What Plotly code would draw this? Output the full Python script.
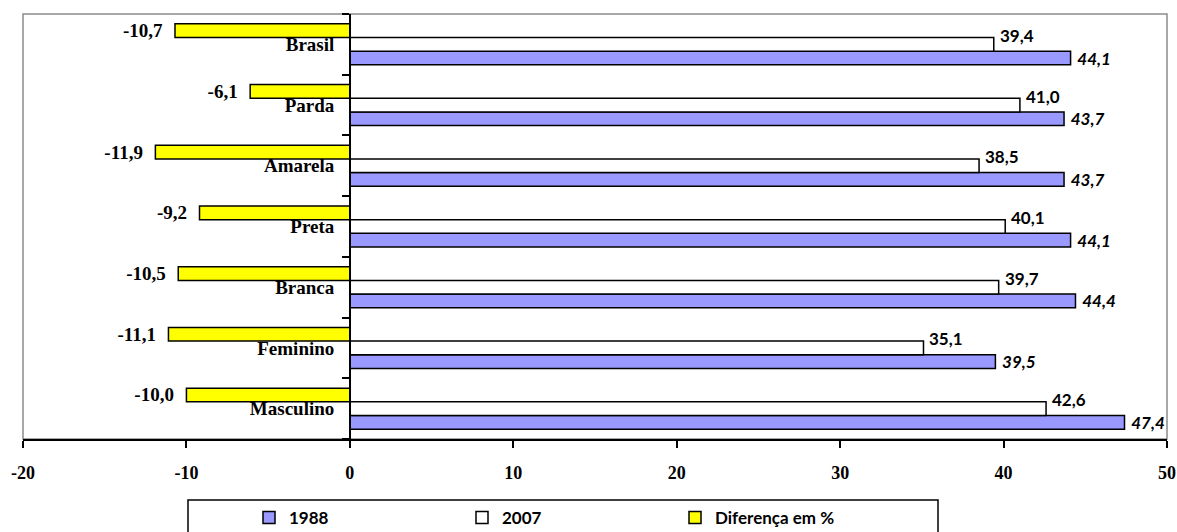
import plotly.graph_objects as go

# Categories, listed bottom to top on the category axis
categorias = ["Masculino", "Feminino", "Branca", "Preta", "Amarela", "Parda", "Brasil"]
valores_1988 = [47.4, 39.5, 44.4, 44.1, 43.7, 43.7, 44.1]
valores_2007 = [42.6, 35.1, 39.7, 40.1, 38.5, 41.0, 39.4]
diferenca = [-10.0, -11.1, -10.5, -9.2, -11.9, -6.1, -10.7]
x_ticks = [-20, -10, 0, 10, 20, 30, 40, 50]

serif = "Liberation Serif"
sans = "Lato"
NBSP = "\u00a0"

# Plot area in pixels, used to place the legend frame in paper units
W, H = 1177, 532
ML, MR, MT, MB = 23, 10, 14, 93
pw, ph = W - ML - MR, H - MT - MB


def px_x(x):
    return (x - ML) / pw


def px_y(y):
    return (H - MB - y) / ph


def fmt(v):
    return f"{v:.1f}".replace(".", ",")


fig = go.Figure()

fig.add_trace(go.Bar(
    y=categorias, x=valores_1988, orientation="h", name="1988",
    marker=dict(color="#9999FF", line=dict(color="black", width=1.5)),
    texttemplate=NBSP + "%{x:.1f}", textposition="outside", constraintext="none",
    textfont=dict(family=sans, size=17, color="black", weight="bold", style="italic"),
    cliponaxis=False,
))
fig.add_trace(go.Bar(
    y=categorias, x=valores_2007, orientation="h", name="2007",
    marker=dict(color="white", line=dict(color="black", width=1.5)),
    cliponaxis=False,
))
fig.add_trace(go.Bar(
    y=categorias, x=diferenca, orientation="h", name="Diferença em %",
    marker=dict(color="#FFFF00", line=dict(color="black", width=1.5)),
    texttemplate="%{x:.1f}" + NBSP * 2, textposition="outside", constraintext="none",
    textfont=dict(family=serif, size=19, color="black", weight="bold"),
    cliponaxis=False,
))

# 2007 values sit just above and to the right of their bars
annotations = [
    dict(
        x=v, y=c, xref="x", yref="y", text=fmt(v), showarrow=False,
        xanchor="left", yanchor="middle", xshift=4, yshift=9,
        font=dict(family=sans, size=17, color="black", weight="bold"),
    )
    for c, v in zip(categorias, valores_2007)
]

fig.update_layout(
    width=W, height=H,
    margin=dict(l=ML, r=MR, t=MT, b=MB, autoexpand=False),
    paper_bgcolor="white", plot_bgcolor="white",
    barmode="group", bargap=0.325, bargroupgap=0,
    separators=",.",
    showlegend=True,
    annotations=annotations,
    legend=dict(
        orientation="h", x=px_x(249), y=px_y(500), xanchor="left", yanchor="top",
        borderwidth=0, bgcolor="rgba(0,0,0,0)",
        entrywidth=168, entrywidthmode="pixels",
        font=dict(family=sans, size=17, color="black", weight="bold"),
        traceorder="normal",
    ),
    xaxis=dict(
        range=[-20, 50], tickvals=x_ticks, ticktext=[str(v) for v in x_ticks],
        showgrid=False, zeroline=False, automargin=False,
        showline=True, linecolor="black", linewidth=1.5,
        ticks="outside", ticklen=7, tickcolor="black", tickwidth=1.5,
        ticklabelstandoff=10,
        tickfont=dict(family=serif, size=18, color="black", weight="bold"),
    ),
    yaxis=dict(
        type="category", categoryorder="array", categoryarray=categorias,
        anchor="free", position=20 / 70, automargin=False,
        showgrid=False, zeroline=False,
        showline=True, linecolor="black", linewidth=1.5,
        ticks="outside", ticklen=7, tickcolor="black", tickwidth=1.5,
        tickson="boundaries", ticklabelstandoff=11,
        tickfont=dict(family=serif, size=19, color="black", weight="bold"),
    ),
    shapes=[
        dict(
            type="rect", xref="paper", yref="paper", x0=0, x1=1, y0=0, y1=1,
            line=dict(color="#8C8C8C", width=1.5), layer="below",
        ),
        # legend frame
        dict(
            type="rect", xref="paper", yref="paper",
            x0=px_x(188), x1=px_x(938), y0=px_y(545), y1=px_y(500),
            line=dict(color="black", width=1.5), fillcolor="white", layer="below",
        ),
    ],
)

fig.write_html("out.html")
